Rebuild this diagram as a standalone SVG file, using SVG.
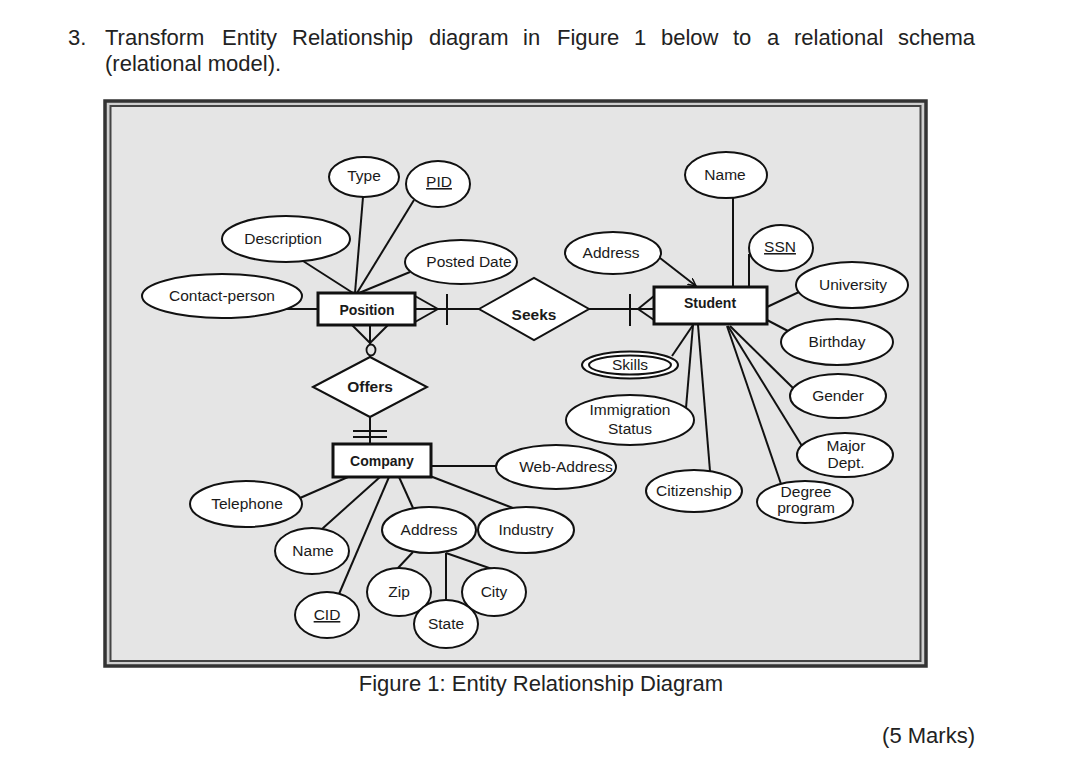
<svg xmlns="http://www.w3.org/2000/svg" width="1092" height="759" viewBox="0 0 1092 759">
<defs>
<style>
.t{font-family:"Liberation Sans",Arial,sans-serif;font-size:22px;fill:#222}
.a{font-family:"Liberation Sans",Arial,sans-serif;font-size:15.5px;fill:#1a1a1a;text-anchor:middle}
.b{font-family:"Liberation Sans",Arial,sans-serif;font-size:14px;font-weight:bold;fill:#1a1a1a;text-anchor:middle}
.r{font-family:"Liberation Sans",Arial,sans-serif;font-size:15.5px;font-weight:bold;fill:#1a1a1a;text-anchor:middle}
.e{fill:#fff;stroke:#111;stroke-width:2}
.ent{fill:#fff;stroke:#111;stroke-width:3}
.rel{fill:#fff;stroke:#111;stroke-width:2}
.c{stroke:#111;stroke-width:2;fill:none}
.u{text-decoration:underline}
</style>
<marker id="arr" markerWidth="10" markerHeight="10" refX="8" refY="4" orient="auto" markerUnits="userSpaceOnUse">
<path d="M0,0 L8,4 L0,8" fill="none" stroke="#111" stroke-width="1.5"/>
</marker>
</defs>
<rect width="1092" height="759" fill="#fff"/>
<text class="t" y="45"><tspan x="68">3.</tspan><tspan x="105">Transform</tspan><tspan x="222">Entity</tspan><tspan x="292">Relationship</tspan><tspan x="429">diagram</tspan><tspan x="523">in</tspan><tspan x="557">Figure</tspan><tspan x="634">1</tspan><tspan x="661">below</tspan><tspan x="733">to</tspan><tspan x="767">a</tspan><tspan x="794">relational</tspan><tspan x="898">schema</tspan></text>
<text class="t" x="105" y="71">(relational model).</text>
<g id="frame">
<rect x="105" y="101" width="821" height="565" fill="#cfcfcf" stroke="#333" stroke-width="3.5"/>
<rect x="110.5" y="106" width="810" height="555" fill="#e5e5e5" stroke="#444" stroke-width="2"/>
</g>
<g id="connectors">
<line class="c" x1="363" y1="197" x2="355" y2="293"/>
<line class="c" x1="414" y1="200" x2="357" y2="293"/>
<line class="c" x1="303" y1="261" x2="353" y2="293"/>
<line class="c" x1="410" y1="272" x2="359" y2="293"/>
<line class="c" x1="285" y1="309" x2="318" y2="309"/>
<line class="c" x1="415" y1="309" x2="479" y2="309"/>
<line class="c" x1="415" y1="296" x2="438" y2="309"/>
<line class="c" x1="415" y1="322" x2="438" y2="309"/>
<line class="c" x1="447" y1="294" x2="447" y2="325"/>
<line class="c" x1="589" y1="309" x2="654" y2="309"/>
<line class="c" x1="630" y1="294" x2="630" y2="326"/>
<line class="c" x1="654" y1="296" x2="638" y2="309"/>
<line class="c" x1="654" y1="320" x2="638" y2="309"/>
<line class="c" x1="370" y1="325" x2="370" y2="357"/>
<line class="c" x1="352" y1="325" x2="370" y2="343"/>
<line class="c" x1="388" y1="325" x2="370" y2="343"/>
<ellipse cx="371" cy="350" rx="4.5" ry="5.5" fill="#e5e5e5" stroke="#111" stroke-width="1.8"/>
<line class="c" x1="370" y1="417" x2="370" y2="444"/>
<line class="c" x1="353" y1="431" x2="387" y2="431"/>
<line class="c" x1="353" y1="437" x2="387" y2="437"/>
<line class="c" x1="733" y1="197" x2="733" y2="287"/>
<line class="c" x1="749" y1="254" x2="749" y2="287"/>
<line class="c" x1="660" y1="258" x2="696" y2="286" marker-end="url(#arr)"/>
<line class="c" x1="767" y1="307" x2="799" y2="292"/>
<line class="c" x1="767" y1="320" x2="788" y2="331"/>
<line class="c" x1="693" y1="325" x2="672" y2="356"/>
<line class="c" x1="693" y1="325" x2="686" y2="408"/>
<line class="c" x1="698" y1="325" x2="710" y2="471"/>
<line class="c" x1="730" y1="326" x2="793" y2="388"/>
<line class="c" x1="728" y1="326" x2="802" y2="446"/>
<line class="c" x1="727" y1="326" x2="781" y2="484"/>
<line class="c" x1="431" y1="466" x2="497" y2="466"/>
<line class="c" x1="348" y1="477" x2="300" y2="498"/>
<line class="c" x1="380" y1="477" x2="322" y2="529"/>
<line class="c" x1="389" y1="477" x2="339" y2="594"/>
<line class="c" x1="399" y1="477" x2="413" y2="508"/>
<line class="c" x1="430" y1="476" x2="513" y2="508"/>
<line class="c" x1="413" y1="552" x2="398" y2="568"/>
<line class="c" x1="446" y1="553" x2="446" y2="600"/>
<line class="c" x1="446" y1="553" x2="492" y2="569"/>
</g>
<g id="position"><rect class="ent" x="318" y="293" width="97" height="32"/><text class="b" x="367" y="315">Position</text></g>
<g id="seeks"><polygon class="rel" points="479,309 534,278 589,309 534,340"/><text class="r" x="534" y="320">Seeks</text></g>
<g id="offers"><polygon class="rel" points="313,387 370,357 427,387 370,417"/><text class="r" x="370" y="392">Offers</text></g>
<g id="student"><rect class="ent" x="654" y="287" width="113" height="37"/><text class="b" x="710" y="308">Student</text></g>
<g id="company"><rect class="ent" x="333" y="444" width="98" height="33"/><text class="b" x="382" y="466">Company</text></g>
<g id="type"><ellipse class="e" cx="364" cy="177" rx="35" ry="20"/><text class="a" x="364" y="181">Type</text></g>
<g id="pid"><ellipse class="e" cx="438" cy="184" rx="32" ry="23"/><text class="a u" x="439" y="187">PID</text></g>
<g id="description"><ellipse class="e" cx="286" cy="239" rx="64" ry="23"/><text class="a" x="283" y="244">Description</text></g>
<g id="posted-date"><ellipse class="e" cx="461" cy="262" rx="56" ry="22"/><text class="a" x="469" y="267">Posted Date</text></g>
<g id="contact-person"><ellipse class="e" cx="222" cy="296" rx="80" ry="22"/><text class="a" x="222" y="301">Contact-person</text></g>
<g id="student-name"><ellipse class="e" cx="726" cy="175" rx="41" ry="23"/><text class="a" x="725" y="180">Name</text></g>
<g id="ssn"><ellipse class="e" cx="781" cy="248" rx="32" ry="23"/><text class="a u" x="780" y="252">SSN</text></g>
<g id="student-address"><ellipse class="e" cx="613" cy="253" rx="48" ry="21"/><text class="a" x="611" y="258">Address</text></g>
<g id="university"><ellipse class="e" cx="852" cy="285" rx="56" ry="23"/><text class="a" x="853" y="290">University</text></g>
<g id="birthday"><ellipse class="e" cx="837" cy="342" rx="56" ry="23"/><text class="a" x="837" y="347">Birthday</text></g>
<g id="skills"><ellipse class="e" cx="630" cy="365" rx="48" ry="13.5"/><ellipse class="e" cx="630" cy="365" rx="41" ry="9.5"/><text class="a" x="630" y="370">Skills</text></g>
<g id="gender"><ellipse class="e" cx="838" cy="396" rx="48" ry="22"/><text class="a" x="838" y="401">Gender</text></g>
<g id="immigration"><ellipse class="e" cx="630" cy="420" rx="64" ry="25"/><text class="a" x="630" y="415">Immigration</text><text class="a" x="630" y="434">Status</text></g>
<g id="major"><ellipse class="e" cx="845" cy="455" rx="48" ry="22"/><text class="a" x="846" y="451">Major</text><text class="a" x="846" y="468">Dept.</text></g>
<g id="citizenship"><ellipse class="e" cx="694" cy="491" rx="48" ry="21"/><text class="a" x="694" y="496">Citizenship</text></g>
<g id="degree"><ellipse class="e" cx="805" cy="502" rx="48" ry="21"/><text class="a" x="806" y="497">Degree</text><text class="a" x="806" y="513">program</text></g>
<g id="web-address"><ellipse class="e" cx="556" cy="467" rx="60" ry="22"/><text class="a" x="566" y="472">Web-Address</text></g>
<g id="telephone"><ellipse class="e" cx="246" cy="504" rx="56" ry="23"/><text class="a" x="247" y="509">Telephone</text></g>
<g id="company-address"><ellipse class="e" cx="429" cy="530" rx="47" ry="23"/><text class="a" x="429" y="535">Address</text></g>
<g id="industry"><ellipse class="e" cx="526" cy="530" rx="48" ry="23"/><text class="a" x="526" y="535">Industry</text></g>
<g id="company-name"><ellipse class="e" cx="312" cy="551" rx="37" ry="23"/><text class="a" x="313" y="556">Name</text></g>
<g id="zip"><ellipse class="e" cx="399" cy="592" rx="32" ry="24"/><text class="a" x="399" y="597">Zip</text></g>
<g id="city"><ellipse class="e" cx="494" cy="592" rx="32" ry="24"/><text class="a" x="494" y="597">City</text></g>
<g id="state"><ellipse class="e" cx="446" cy="624" rx="32" ry="24"/><text class="a" x="446" y="629">State</text></g>
<g id="cid"><ellipse class="e" cx="327" cy="615" rx="32" ry="23"/><text class="a u" x="327" y="620">CID</text></g>
<text class="t" x="541" y="691" text-anchor="middle">Figure 1: Entity Relationship Diagram</text>
<text class="t" x="975" y="743" text-anchor="end">(5 Marks)</text>
</svg>
